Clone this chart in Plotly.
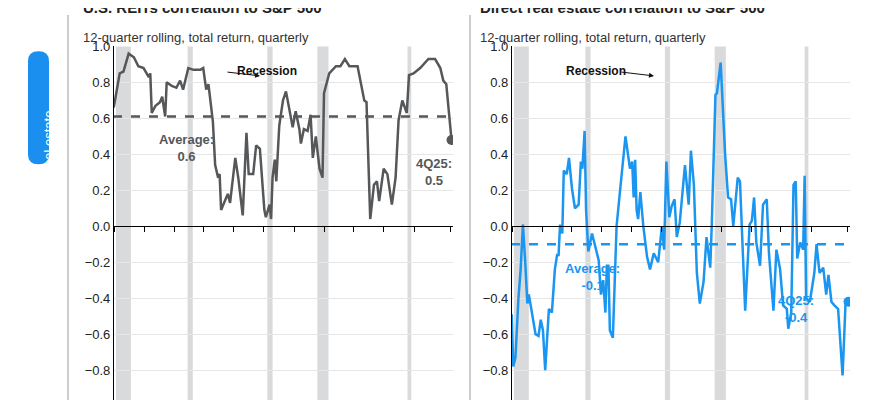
import plotly.graph_objects as go

# U.S. REITs correlation to S&P 500
reit_year = [1980.6, 1981.4, 1981.9, 1982.6, 1983.3, 1983.9, 1984.6, 1985.3, 1985.5, 1985.7,
             1986.2, 1986.8, 1987.1, 1987.5, 1987.7, 1988.4, 1989.0, 1989.5, 1989.9, 1990.6,
             1991.3, 1992.2, 1992.6, 1993.0, 1993.3, 1993.7, 1993.9, 1994.2, 1994.6, 1994.8,
             1995.0, 1995.5, 1995.9, 1996.2, 1996.6, 1996.9, 1997.3, 1997.9, 1998.4, 1998.7,
             1999.3, 1999.7, 2000.2, 2000.8, 2001.0, 2001.5, 2001.7, 2001.9, 2002.2, 2002.4,
             2002.8, 2003.3, 2003.7, 2004.2, 2004.6, 2005.0, 2005.5, 2005.7, 2006.1, 2006.6,
             2007.0, 2007.3, 2007.7, 2008.2, 2008.6, 2008.8, 2009.5, 2010.4, 2011.0, 2011.6,
             2012.2, 2013.3, 2014.2, 2014.5, 2015.0, 2015.5, 2015.9, 2016.2, 2016.8, 2017.3,
             2017.9, 2018.4, 2018.8, 2019.3, 2019.9, 2020.2, 2020.8, 2021.7, 2022.8, 2023.7,
             2024.4, 2024.8, 2025.2, 2025.9]
reit_corr = [0.66, 0.85, 0.86, 0.96, 0.94, 0.89, 0.88, 0.83, 0.85, 0.63,
             0.67, 0.69, 0.72, 0.61, 0.80, 0.78, 0.77, 0.81, 0.76, 0.88,
             0.87, 0.87, 0.88, 0.76, 0.79, 0.63, 0.58, 0.34, 0.27, 0.29,
             0.09, 0.14, 0.18, 0.13, 0.27, 0.38, 0.27, 0.06, 0.52, 0.29,
             0.29, 0.45, 0.43, 0.09, 0.05, 0.12, 0.04, 0.27, 0.37, 0.25,
             0.56, 0.70, 0.75, 0.63, 0.55, 0.64, 0.54, 0.46, 0.54, 0.53,
             0.62, 0.38, 0.50, 0.32, 0.27, 0.74, 0.85, 0.89, 0.89, 0.93,
             0.89, 0.89, 0.70, 0.69, 0.04, 0.23, 0.25, 0.14, 0.32, 0.29,
             0.12, 0.27, 0.59, 0.70, 0.63, 0.84, 0.85, 0.88, 0.93, 0.93,
             0.88, 0.81, 0.79, 0.48]

# Direct real estate correlation to S&P 500
dre_year = [1980.6, 1980.8, 1981.1, 1981.5, 1981.8, 1982.1, 1982.4, 1982.7, 1982.9, 1983.3,
            1983.8, 1984.2, 1984.5, 1984.8, 1985.1, 1985.6, 1986.0, 1986.4, 1986.7, 1986.9,
            1987.1, 1987.4, 1987.6, 1988.0, 1988.3, 1988.7, 1989.1, 1989.6, 1989.9, 1990.1,
            1990.4, 1990.6, 1990.9, 1991.4, 1991.8, 1992.3, 1992.6, 1992.9, 1993.2, 1993.4,
            1993.6, 1993.8, 1994.2, 1994.7, 1995.2, 1995.9, 1996.5, 1996.8, 1997.0, 1997.2,
            1997.4, 1997.6, 1997.9, 1998.3, 1998.8, 1999.2, 1999.7, 2000.3, 2000.8, 2001.1,
            2001.4, 2001.8, 2002.1, 2002.5, 2002.8, 2003.0, 2003.2, 2003.9, 2004.4, 2004.7,
            2005.1, 2005.5, 2005.9, 2006.4, 2006.8, 2007.3, 2007.5, 2008.0, 2008.2, 2008.7,
            2009.3, 2009.7, 2010.1, 2010.4, 2011.0, 2011.3, 2012.0, 2012.6, 2012.9, 2013.2,
            2013.5, 2014.0, 2014.4, 2014.9, 2015.2, 2015.8, 2016.2, 2016.7, 2017.1, 2017.6,
            2017.8, 2018.2, 2018.5, 2018.8, 2019.0, 2019.4, 2019.8, 2020.0, 2020.2, 2020.7,
            2021.3, 2021.6, 2022.0, 2022.5, 2022.9, 2023.2, 2023.6, 2024.0, 2024.5, 2025.1,
            2025.5, 2025.9]
dre_corr = [-0.49, -0.78, -0.73, -0.40, -0.24, 0.01, -0.19, -0.43, -0.38, -0.49,
            -0.60, -0.61, -0.52, -0.58, -0.80, -0.46, -0.48, -0.24, -0.16, -0.16,
            0.01, -0.04, 0.31, 0.29, 0.38, 0.21, 0.10, 0.12, 0.36, 0.32,
            0.53, 0.09, -0.14, -0.04, -0.11, -0.19, -0.38, -0.30, -0.48, -0.22,
            -0.22, -0.58, -0.62, 0.00, 0.21, 0.50, 0.32, 0.36, 0.16, 0.37,
            0.09, 0.04, 0.19, 0.00, -0.17, -0.24, -0.15, -0.20, 0.00, -0.13,
            0.36, 0.05, 0.11, 0.15, -0.06, -0.02, 0.02, 0.34, 0.12, 0.42,
            0.23, -0.26, -0.43, -0.31, -0.06, -0.23, 0.00, 0.73, 0.74, 0.91,
            0.40, 0.16, 0.15, 0.00, 0.27, 0.25, -0.47, 0.01, 0.03, 0.16,
            -0.09, -0.22, 0.12, 0.15, -0.15, -0.47, -0.13, -0.24, -0.44, -0.46,
            -0.57, -0.48, 0.23, 0.25, -0.18, -0.09, -0.13, 0.28, -0.40, -0.42,
            -0.26, -0.10, -0.26, -0.23, -0.38, -0.27, -0.42, -0.44, -0.46, -0.83,
            -0.43, -0.42]

reit_avg = 0.61
dre_avg = -0.1
recessions = [(1980.9, 1982.9), (1990.5, 1991.2), (2001.2, 2001.9), (2007.9, 2009.4), (2020.0, 2020.5)]
x_ticks = [1980.7, 1984.7, 1988.7, 1992.7, 1996.7, 2000.7, 2004.8, 2008.8, 2012.8, 2016.8, 2020.9, 2025.7]
y_ticks = [1.0, 0.8, 0.6, 0.4, 0.2, 0.0, -0.2, -0.4, -0.6, -0.8, -1.0]

GRAY = "#555759"
BLUE = "#1a96f0"
FONT = "Liberation Sans"
W, H = 870, 400

def px(x):
    return x / W

def py(y):
    return 1 - y / H

fig = go.Figure()

panels = [
    ("x", "y", reit_year, reit_corr, reit_avg, GRAY),
    ("x2", "y2", dre_year, dre_corr, dre_avg, BLUE),
]
x_range = [1980.5, 2026.1]
zero_pos = py(215)

for xa, ya, xs, ys, avg, col in panels:
    fig.add_trace(go.Scatter(x=[x_range[0], x_range[1]], y=[avg, avg], mode="lines",
                             line=dict(color=col, width=2.5, dash="dash"),
                             xaxis=xa, yaxis=ya, hoverinfo="skip"))
    fig.add_trace(go.Scatter(x=xs, y=ys, mode="lines", line=dict(color=col, width=2.5),
                             xaxis=xa, yaxis=ya))
    fig.add_trace(go.Scatter(x=[xs[-1]], y=[ys[-1]], mode="markers",
                             marker=dict(color=col, size=10), xaxis=xa, yaxis=ya))
    for a, b in recessions:
        fig.add_shape(type="rect", xref=xa, yref=ya + " domain", x0=a, x1=b, y0=0, y1=1,
                      fillcolor="#d9dadc", line_width=0, layer="below")

axis_common = dict(range=x_range, anchor="free", position=zero_pos, showgrid=False,
                   showline=True, linecolor="black", linewidth=1.2, ticks="outside",
                   tickvals=x_ticks, ticklen=5, tickcolor="black", showticklabels=False,
                   zeroline=False)
y_common = dict(range=[-1, 1], tickvals=y_ticks, tickformat=".1f", showgrid=True,
                gridcolor="#e6e6e6", showline=True, linecolor="black", linewidth=1.2,
                zeroline=False, tickfont=dict(size=13, color="#222"), ticks="",
                anchor="free", domain=[py(398), py(32)])

fig.update_layout(
    width=W, height=H, margin=dict(l=0, r=0, t=0, b=0),
    plot_bgcolor="white", paper_bgcolor="white", showlegend=False,
    font=dict(family=FONT, size=13, color="#222"),
    xaxis=dict(domain=[px(105), px(445)], **axis_common),
    xaxis2=dict(domain=[px(503), px(842)], **axis_common),
    yaxis=dict(position=px(105), **y_common),
    yaxis2=dict(position=px(503), **y_common),
)

# separators and side label
for xv in (60, 462):
    fig.add_shape(type="line", xref="paper", yref="paper", x0=px(xv), x1=px(xv), y0=0, y1=1,
                  line=dict(color="#9a9a9a", width=1))
x0, x1, y0, y1 = px(20), px(41), py(152), py(37)
rr = 10 / H
fig.add_shape(type="path", xref="paper", yref="paper", fillcolor="#1a8ff0", line_width=0,
              path=(f"M {x0} {y1 - rr} Q {x0} {y1} {(x0 + x1) / 2} {y1} Q {x1} {y1} {x1} {y1 - rr} "
                    f"L {x1} {y0 + rr} Q {x1} {y0} {(x0 + x1) / 2} {y0} Q {x0} {y0} {x0} {y0 + rr} Z"))

ann = [
    dict(x=px(30.5), y=py(95), text="Real estate", textangle=-90, font=dict(color="white", size=13)),
    dict(x=px(73), y=py(3), text="<b>U.S. REITs correlation to S&P 500</b>", xanchor="left",
         yanchor="bottom", font=dict(size=15)),
    dict(x=px(470), y=py(3), text="<b>Direct real estate correlation to S&P 500</b>", xanchor="left",
         yanchor="bottom", font=dict(size=15)),
    dict(x=px(73), y=py(13), text="12-quarter rolling, total return, quarterly", xanchor="left",
         font=dict(size=13, color="#333")),
    dict(x=px(470), y=py(13), text="12-quarter rolling, total return, quarterly", xanchor="left",
         font=dict(size=13, color="#333")),
    dict(x=px(149), y=py(135), text="<b>Average:<br>0.6</b>", font=dict(color=GRAY, size=13)),
    dict(x=px(426), y=py(160), text="<b>4Q25:<br>0.5</b>", font=dict(color=GRAY, size=13)),
    dict(x=px(614), y=py(285), text="<b>Average:<br>-0.1</b>", font=dict(color=BLUE, size=13)),
    dict(x=px(808), y=py(318), text="<b>4Q25:<br>-0.4</b>", font=dict(color=BLUE, size=13)),
    dict(x=px(227), y=py(48), text="<b>Recession</b>", font=dict(color="#111", size=12)),
    dict(x=px(620), y=py(48), text="<b>Recession</b>", font=dict(color="#111", size=12)),
]
for a in ann:
    a.setdefault("xref", "paper")
    a.setdefault("yref", "paper")
    a.setdefault("showarrow", False)
    a.setdefault("align", "center")
    fig.add_annotation(**a)

for hx, tx in ((252, 218), (646, 612)):
    fig.add_annotation(xref="paper", yref="paper", x=px(hx), y=py(62), ax=tx - hx, ay=-4,
                       axref="pixel", ayref="pixel", text="", showarrow=True, arrowhead=2,
                       arrowsize=1, arrowwidth=1, arrowcolor="#111")

fig.write_html("out.html")
